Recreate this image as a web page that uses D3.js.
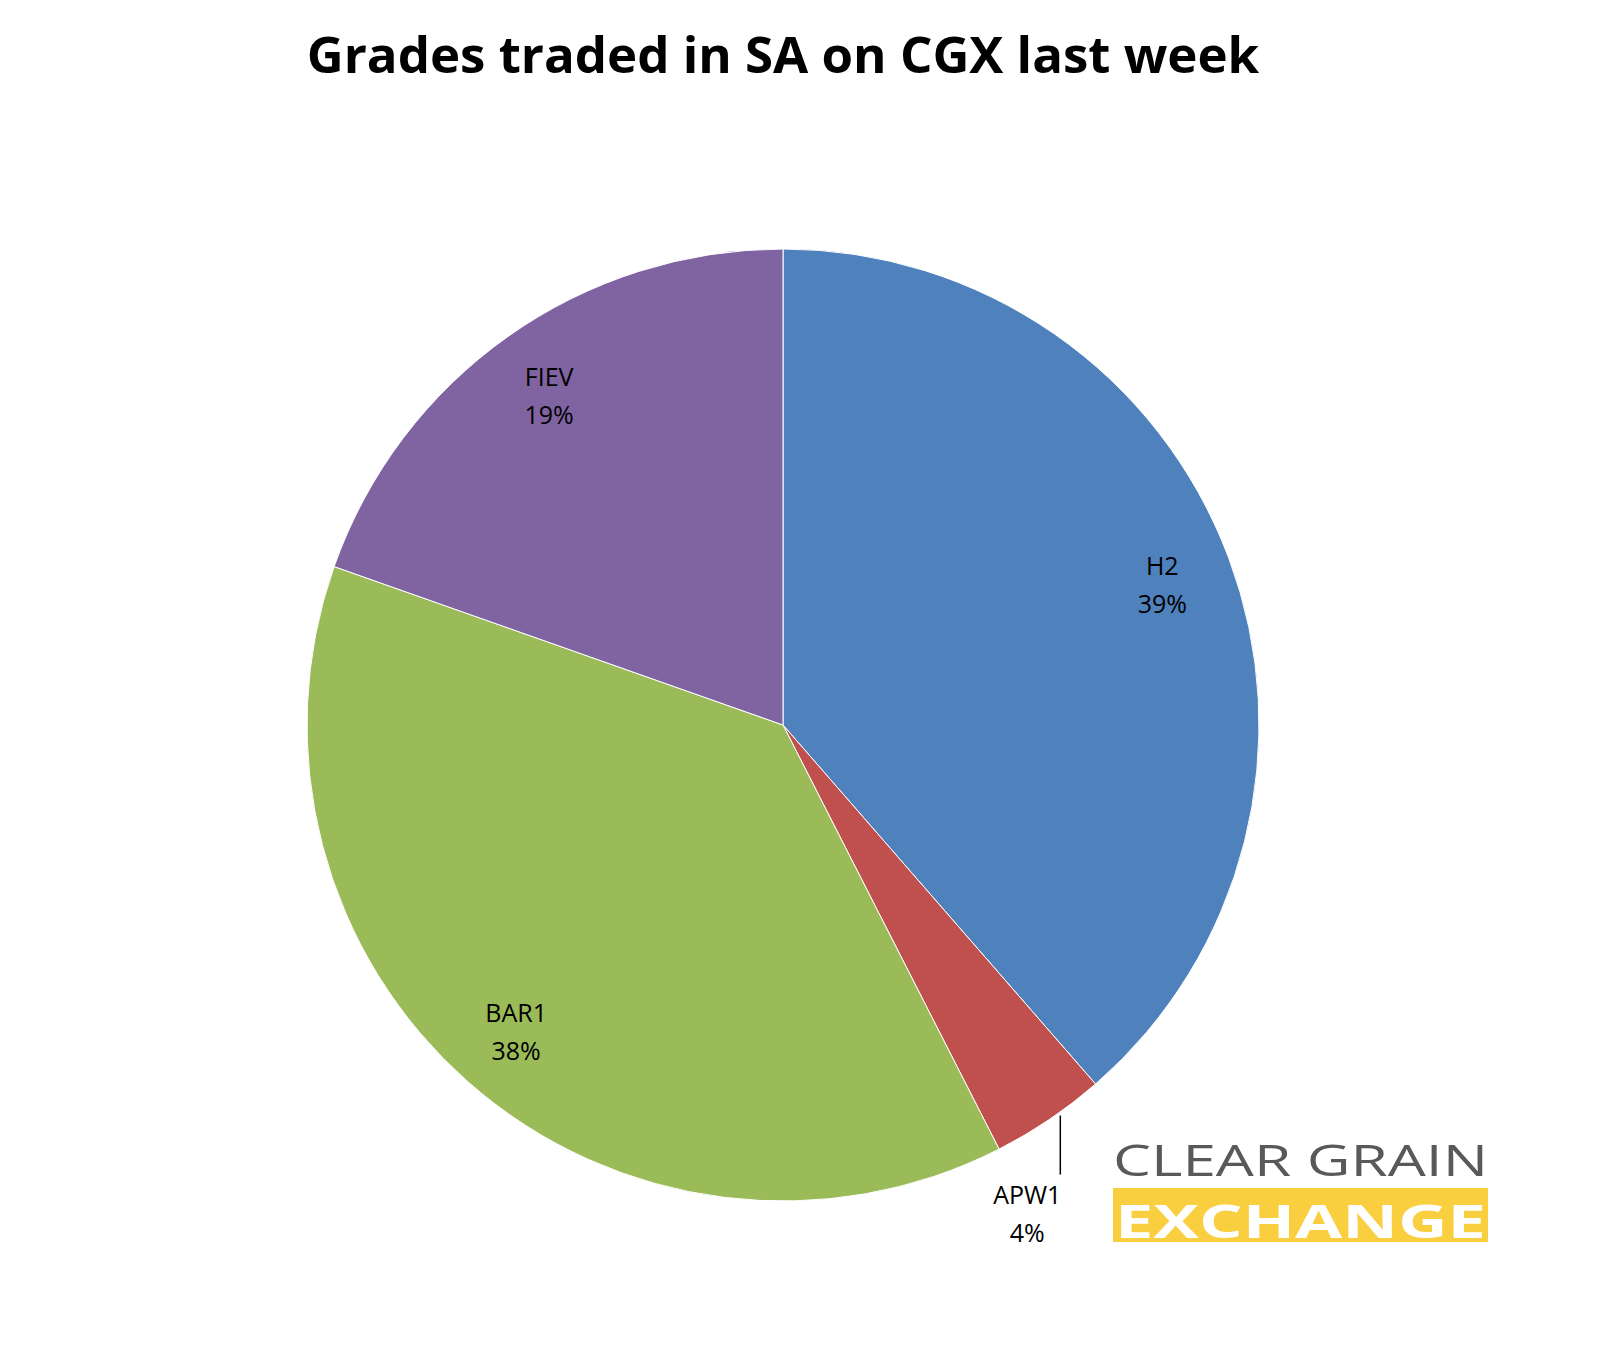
<!DOCTYPE html>
<html><head><meta charset="utf-8">
<script src="https://cdn.jsdelivr.net/npm/d3@7"></script>
<style>body{margin:0;background:#fff}</style></head>
<body><div id="chart"></div>
<script>
const categories = ['H2', 'APW1', 'BAR1', 'FIEV']
const values = [38.6, 3.9, 37.9, 19.6]
const labels = ['39%', '4%', '38%', '19%']
const colors = ['#4F81BD', '#C0504D', '#9BBB59', '#8064A2']

const W = 1609, H = 1351, cx = 783, cy = 725, R = 476
const font = "'Open Sans', 'Liberation Sans', sans-serif"

const svg = d3.select('#chart').append('svg').attr('width', W).attr('height', H)

svg.append('text').attr('x', 783).attr('y', 73).attr('text-anchor', 'middle')
  .style('font-family', font).style('font-weight', 'bold').style('font-size', '51px')
  .text('Grades traded in SA on CGX last week')

const pie = d3.pie().sort(null).value(d => d)
const arcs = pie(values)
const arc = d3.arc().innerRadius(0).outerRadius(R)
const g = svg.append('g').attr('transform', `translate(${cx},${cy})`)

g.selectAll('path').data(arcs).enter().append('path')
  .attr('d', arc).attr('fill', (d, i) => colors[i])
  .attr('stroke', '#fff').attr('stroke-width', 1)

const lab = d3.arc().innerRadius(405).outerRadius(405)
arcs.forEach((d, i) => {
  let [x, y] = lab.centroid(d)
  if (categories[i] === 'APW1') {
    const [ex, ey] = d3.arc().innerRadius(R).outerRadius(R).centroid(d)
    g.append('line').attr('x1', ex + 11).attr('y1', ey - 4).attr('x2', ex + 11).attr('y2', ey + 55)
      .attr('stroke', '#000').attr('stroke-width', 1.5)
    x = ex - 22; y = ey + 92
  }
  const t = g.append('text').attr('text-anchor', 'middle')
    .style('font-family', font).style('font-size', '25px')
  t.append('tspan').attr('x', x).attr('y', y - 8).text(categories[i])
  t.append('tspan').attr('x', x).attr('y', y + 30).text(labels[i])
})

// logo
const logo = svg.append('g').attr('transform', 'translate(1113,1138)')
logo.append('text').attr('x', 0).attr('y', 38).attr('textLength', 375).attr('lengthAdjust', 'spacingAndGlyphs')
  .style('font-family', "'Open Sans', sans-serif").style('font-size', '44px').attr('fill', '#58595B')
  .text('CLEAR GRAIN')
logo.append('rect').attr('x', 0).attr('y', 50).attr('width', 375).attr('height', 54).attr('fill', '#F9CE3F')
logo.append('text').attr('x', 2).attr('y', 100).attr('textLength', 371).attr('lengthAdjust', 'spacingAndGlyphs')
  .style('font-family', "'Open Sans', sans-serif").style('font-weight', 'bold').style('font-size', '46px').attr('fill', '#fff')
  .text('EXCHANGE')
</script></body></html>
